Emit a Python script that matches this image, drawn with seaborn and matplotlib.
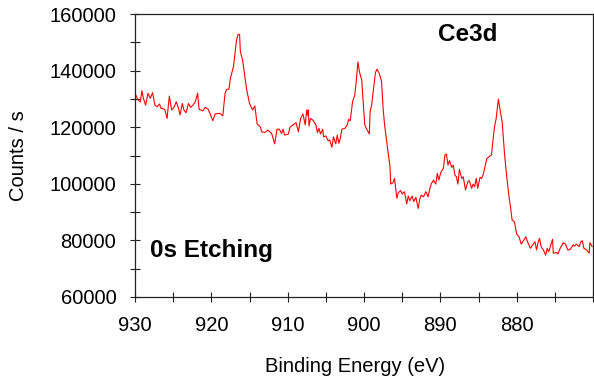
import numpy as np
import pandas as pd
import matplotlib
matplotlib.use("Agg")
import matplotlib.pyplot as plt
import seaborn as sns
from matplotlib.ticker import MultipleLocator

# Ce3d spectrum (binding energy in eV, counts per second)
energy = [
    929.9, 929.6, 929.3, 929.1, 928.9, 928.6, 928.3, 928.0, 927.7, 927.4,
    927.1, 926.8, 926.6, 926.1, 925.8, 925.5, 925.2, 924.9, 924.6, 924.3,
    924.1, 923.8, 923.6, 923.3, 923.0, 922.7, 922.4, 922.1, 921.8, 921.6,
    921.1, 920.8, 920.4, 920.1, 919.8, 919.5, 918.9, 918.5, 918.2, 918.0,
    917.7, 917.5, 917.1, 916.7, 916.5, 916.3, 916.2, 915.9, 915.4, 915.0,
    914.6, 914.3, 914.0, 913.6, 913.4, 913.0, 912.6, 912.1, 911.7, 911.4,
    911.1, 910.8, 910.6, 910.4, 909.9, 909.7, 909.3, 908.9, 908.6, 908.3,
    908.0, 907.7, 907.5, 907.4, 907.3, 907.2, 907.0, 906.7, 906.3, 906.1,
    905.9, 905.7, 905.4, 905.3, 905.0, 904.7, 904.5, 904.2, 904.0, 903.7,
    903.5, 903.3, 903.1, 902.9, 902.5, 902.2, 902.0, 901.8, 901.5, 901.2,
    901.0, 900.8, 900.6, 900.3, 900.2, 899.9, 899.7, 899.3, 899.2, 899.0,
    898.7, 898.5, 898.3, 898.0, 897.7, 897.5, 897.3, 896.8, 896.6, 896.5,
    896.2, 896.0, 895.7, 895.5, 895.2, 895.0, 894.7, 894.4, 894.2, 894.0,
    893.7, 893.5, 893.2, 892.9, 892.7, 892.5, 892.2, 891.9, 891.6, 891.4,
    891.2, 890.9, 890.6, 890.4, 890.2, 889.9, 889.6, 889.4, 889.2, 889.0,
    888.8, 888.5, 888.3, 888.1, 887.9, 887.7, 887.5, 887.2, 887.0, 886.7,
    886.4, 886.2, 885.9, 885.7, 885.5, 885.3, 885.1, 884.8, 884.6, 884.4,
    884.2, 883.9, 883.5, 883.3, 883.1, 882.9, 882.7, 882.4, 882.1, 881.9,
    881.6, 881.3, 881.0, 880.8, 880.6, 880.3, 880.0, 879.7, 879.4, 879.2,
    878.8, 878.5, 878.2, 877.9, 877.6, 877.4, 877.2, 877.0, 876.8, 876.5,
    876.2, 876.0, 875.8, 875.3, 875.2, 874.8, 874.6, 874.3, 873.9, 873.6,
    873.3, 873.0, 872.6, 872.4, 872.2, 871.8, 871.6, 871.4, 871.2, 870.9,
    870.5, 870.4, 870.1,
]
counts = [
    131400, 129600, 129000, 132900, 130200, 127800, 132000, 130200, 132200, 127800,
    127200, 128200, 126700, 126300, 123100, 131000, 126100, 127000, 129000, 126700,
    124300, 128400, 126100, 125100, 128400, 127000, 127800, 129000, 132000, 126300,
    125800, 127000, 126300, 124300, 122300, 124700, 124900, 124000, 132000, 133400,
    133400, 137300, 141400, 150800, 152800, 152800, 146700, 143700, 133700, 128400,
    126100, 127500, 121100, 120200, 118400, 118100, 119000, 117800, 114100, 119300,
    119300, 117800, 119300, 117200, 117600, 120000, 120800, 121600, 118400, 123100,
    124700, 120800, 126100, 124300, 126100, 120400, 123100, 122500, 120800, 118100,
    119600, 117600, 119300, 116600, 116900, 115200, 115500, 112900, 116600, 114100,
    117200, 114300, 116100, 119300, 119600, 120800, 122800, 122300, 129000, 131400,
    136700, 143100, 139600, 136700, 132500, 120800, 119600, 117600, 125500, 127800,
    134900, 139300, 140500, 139000, 136100, 126700, 120800, 110200, 106300, 99900,
    100400, 101900, 94900, 96900, 97600, 96400, 97200, 92900, 95700, 94000,
    95700, 93700, 95200, 91300, 94500, 96000, 95400, 97200, 95400, 98000,
    99900, 101300, 99900, 103700, 101300, 104300, 105500, 110200, 110500, 106600,
    108200, 105800, 106600, 103100, 102500, 99900, 105100, 101900, 102500, 97800,
    100700, 101100, 98400, 99900, 99000, 101900, 98400, 102300, 101900, 103100,
    105500, 109000, 109800, 110200, 115500, 120200, 122800, 129900, 124900, 121900,
    110800, 102500, 95400, 91700, 87200, 86600, 82300, 81300, 78700, 79500,
    81300, 79000, 77200, 78400, 79500, 76600, 79200, 80700, 77800, 76600,
    74800, 77200, 76000, 80400, 75500, 75700, 75200, 77200, 79200, 78700,
    76600, 76800, 78400, 78000, 78700, 77800, 79500, 79900, 77200, 76800,
    75500, 79200, 77800,
]

x_ticks = [930, 920, 910, 900, 890, 880]
y_ticks = [60000, 80000, 100000, 120000, 140000, 160000]

df = pd.DataFrame({"energy": energy, "counts": counts})

sns.set_style("ticks")
plt.rcParams["font.family"] = ["Liberation Sans", "DejaVu Sans"]
plt.rcParams["text.color"] = "black"
plt.rcParams["axes.labelcolor"] = "black"

fig = plt.figure(figsize=(5.94, 3.78), dpi=100)
ax = fig.add_axes([135 / 594, 1 - 297 / 378, 458 / 594, 283 / 378])

sns.lineplot(data=df, x="energy", y="counts", color="red", linewidth=0.8,
             sort=False, ax=ax)

ax.set_xlim(930, 870)
ax.set_ylim(60000, 160000)
ax.set_xticks(x_ticks)
ax.set_yticks(y_ticks)
ax.set_xticklabels([str(t) for t in x_ticks])
ax.set_yticklabels([str(t) for t in y_ticks])
ax.xaxis.set_minor_locator(MultipleLocator(5))
ax.yaxis.set_minor_locator(MultipleLocator(10000))

for side in ["top", "right", "left", "bottom"]:
    ax.spines[side].set_visible(True)
    ax.spines[side].set_color("#222222")
    ax.spines[side].set_linewidth(0.9)

ax.tick_params(axis="both", which="both", direction="inout", length=7,
               width=0.8, color="#222222", labelsize=14.5, labelcolor="black")
ax.tick_params(axis="x", which="both", pad=10)
ax.tick_params(axis="y", which="both", pad=10)

ax.set_xlabel("Binding Energy (eV)", fontsize=14.5, color="black")
ax.set_ylabel("Counts / s", fontsize=14.5, color="black")
ax.xaxis.set_label_coords(0.48, -0.212)
ax.yaxis.set_label_coords(-0.234, 0.5)

ax.text(0.727, 0.926, "Ce3d", transform=ax.transAxes, fontsize=17.5,
        fontweight="bold", ha="center", va="center", color="black")
ax.text(0.167, 0.166, "0s Etching", transform=ax.transAxes, fontsize=17.5,
        fontweight="bold", ha="center", va="center", color="black")

fig.savefig("out.png", dpi=100)
